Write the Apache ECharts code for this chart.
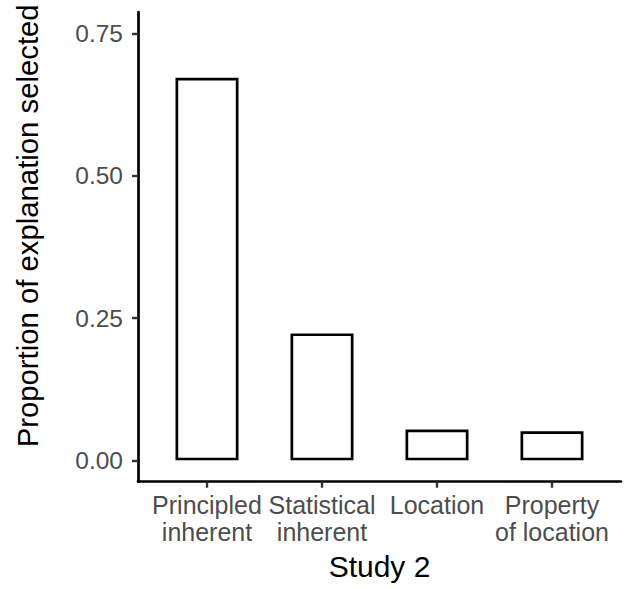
<!DOCTYPE html>
<html>
<head>
<meta charset="utf-8">
<script src="https://cdn.jsdelivr.net/npm/echarts@6/dist/echarts.min.js"></script>
<style>
html,body{margin:0;padding:0;background:#fff;}
#chart{width:626px;height:589px;}
</style>
</head>
<body>
<div id="chart"></div>
<script>
var categories = ["Principled\ninherent", "Statistical\ninherent", "Location", "Property\nof location"];
var proportions = [0.672, 0.223, 0.054, 0.051];
var yTicks = [0, 0.25, 0.5, 0.75];
var xTitle = "Study 2";
var yTitle = "Proportion of explanation selected";

var positions = categories.map(function (c, i) { return i; });
var barData = positions.map(function (p, i) { return [p, proportions[i]]; });

var chart = echarts.init(document.getElementById('chart'), null, {renderer: 'svg'});
var FONT = 'Liberation Sans, Arial, Helvetica, sans-serif';
chart.setOption({
  animation: false,
  backgroundColor: '#ffffff',
  grid: {left: 138, right: 5, top: 12, bottom: 107.3, containLabel: false, outerBoundsMode: 'none'},
  xAxis: {
    type: 'value',
    min: -0.6,
    max: 3.6,
    name: xTitle,
    nameLocation: 'middle',
    nameGap: 70,
    nameTextStyle: {color: '#000', fontSize: 30, fontFamily: FONT},
    axisLine: {show: true, onZero: false, lineStyle: {color: '#000', width: 2.7}},
    axisTick: {show: true, customValues: positions, length: 6, lineStyle: {color: '#333', width: 2.4}},
    axisLabel: {
      customValues: positions,
      margin: 10,
      color: '#4D4D4D',
      fontSize: 25,
      lineHeight: 27,
      fontFamily: FONT,
      formatter: function (v) { return categories[Math.round(v)]; }
    },
    splitLine: {show: false}
  },
  yAxis: {
    type: 'value',
    min: -0.0375,
    max: 0.7875,
    name: yTitle,
    nameLocation: 'middle',
    nameGap: 96,
    nameTextStyle: {color: '#000', fontSize: 29.3, fontFamily: FONT, padding: [0, 0, 0, 42]},
    axisLine: {show: true, onZero: false, lineStyle: {color: '#000', width: 2.7}},
    axisTick: {show: true, customValues: yTicks, length: 6, lineStyle: {color: '#333', width: 2.4}},
    axisLabel: {
      customValues: yTicks,
      margin: 15,
      color: '#4D4D4D',
      fontSize: 24.5,
      fontFamily: FONT,
      formatter: function (v) { return v.toFixed(2); }
    },
    splitLine: {show: false}
  },
  series: [{
    type: 'bar',
    data: barData,
    barWidth: 63,
    itemStyle: {color: '#ffffff', borderColor: '#000', borderWidth: 2.7}
  }]
});
</script>
</body>
</html>
